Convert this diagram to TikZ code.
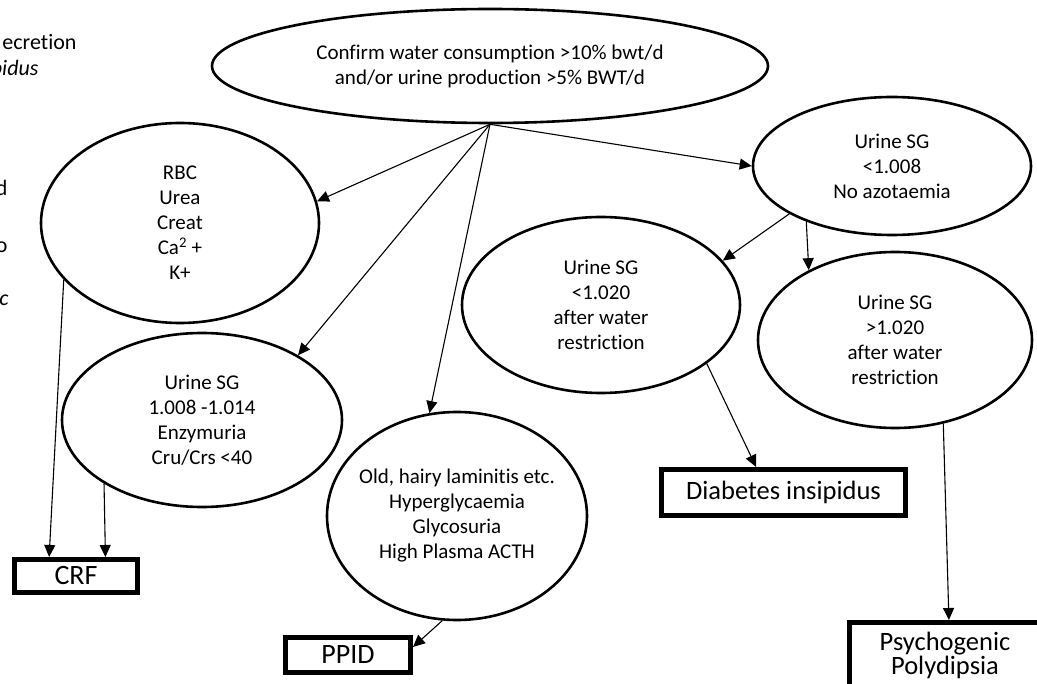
\documentclass[tikz,border=0pt]{standalone}
\usepackage{fontspec}
\setmainfont{Carlito}[Ligatures=NoCommon]
\usetikzlibrary{shapes.geometric}
\usetikzlibrary{arrows.meta}
\usetikzlibrary{calc}

\begin{document}
\begin{tikzpicture}[->, >={Triangle[length=12pt,width=11pt]}, line width=1.1pt, x=1pt, y=-1pt]
    \tikzstyle{oval}=[draw=black, ellipse, line width=2.6pt, inner sep=-30pt, align=center, font=\fontsize{21}{25}\selectfont]
    \tikzstyle{result}=[draw=black, rectangle, line width=5pt, inner sep=0pt, align=center, font=\fontsize{26.5}{24}\selectfont]
    \tikzstyle{cut}=[inner sep=0pt, anchor=east, font=\fontsize{22}{25}\selectfont]

    \useasboundingbox (0,0) rectangle (1037,684);
    \clip (0,0) rectangle (1037,684);

    % words cut off at the left margin
    \node[cut] (cutA) at (77,42) {ecretion};
    \node[cut] (cutB) at (39,70) {\itshape pidus};
    \node[cut] (cutC) at (8,188) {d};
    \node[cut] (cutD) at (8,247) {o};
    \node[cut] (cutE) at (9,300) {\itshape c};

    \node[oval, minimum width=556pt, minimum height=114pt] (confirm) at (490,66) {Confirm water consumption >10\% bwt/d\\and/or urine production >5\% BWT/d};
    \coordinate (hub) at (confirm.south);

    \node[oval, minimum width=278pt, minimum height=200pt] (bloods) at (180,223) {RBC\\Urea\\Creat\\Ca\textsuperscript{2} +\\K+};
    \node[oval, minimum width=280pt, minimum height=174pt] (enzym) at (202,420) {Urine SG\\1.008 -1.014\\Enzymuria\\Cru/Crs <40};
    \node[oval, minimum width=260pt, minimum height=208pt] (cushing) at (457,516) {Old, hairy laminitis etc.\\Hyperglycaemia\\Glycosuria\\High Plasma ACTH};
    \node[oval, minimum width=278pt, minimum height=138pt] (sgLow) at (892,166) {Urine SG\\<1.008\\No azotaemia};
    \node[oval, minimum width=278pt, minimum height=176pt] (sgRestr) at (601,305) {Urine SG\\<1.020\\after water\\restriction};
    \node[oval, minimum width=274pt, minimum height=176pt] (sgConc) at (895,340) {Urine SG\\>1.020\\after water\\restriction};

    \node[result, minimum width=123pt, minimum height=33pt, font=\fontsize{28}{30}\selectfont] (crf) at (76,576) {CRF};
    \node[result, minimum width=125pt, minimum height=35pt, font=\fontsize{28}{30}\selectfont] (ppid) at (348,655) {PPID};
    \node[result, minimum width=244pt, minimum height=46pt] (di) at (783.5,492.5) {Diabetes insipidus};
    \node[result, minimum width=191pt, minimum height=65pt] (pp) at (945,655) {Psychogenic\\Polydipsia};

    \draw (hub) -- (bloods.9);
    \draw (hub) -- (enzym.34);
    \draw (hub) -- (cushing.105);
    \draw (hub) -- (sgLow.west);
    \draw (sgLow.205) -- (sgRestr.20);
    \draw (sgLow.213) -- (sgConc.141);
    \draw (sgRestr.331) -- ($(di.north west)!0.39!(di.north east)$);
    \draw (sgConc.300) -- ($(pp.north west)!0.52!(pp.north east)$);
    \draw (cushing.262) -- ($(ppid.north east)!0.3!(ppid.south east)$);
    \draw (bloods.206) -- ($(crf.north west)!0.29!(crf.north east)$);
    \draw (enzym.213) -- ($(crf.north west)!0.73!(crf.north east)$);
\end{tikzpicture}
\end{document}
